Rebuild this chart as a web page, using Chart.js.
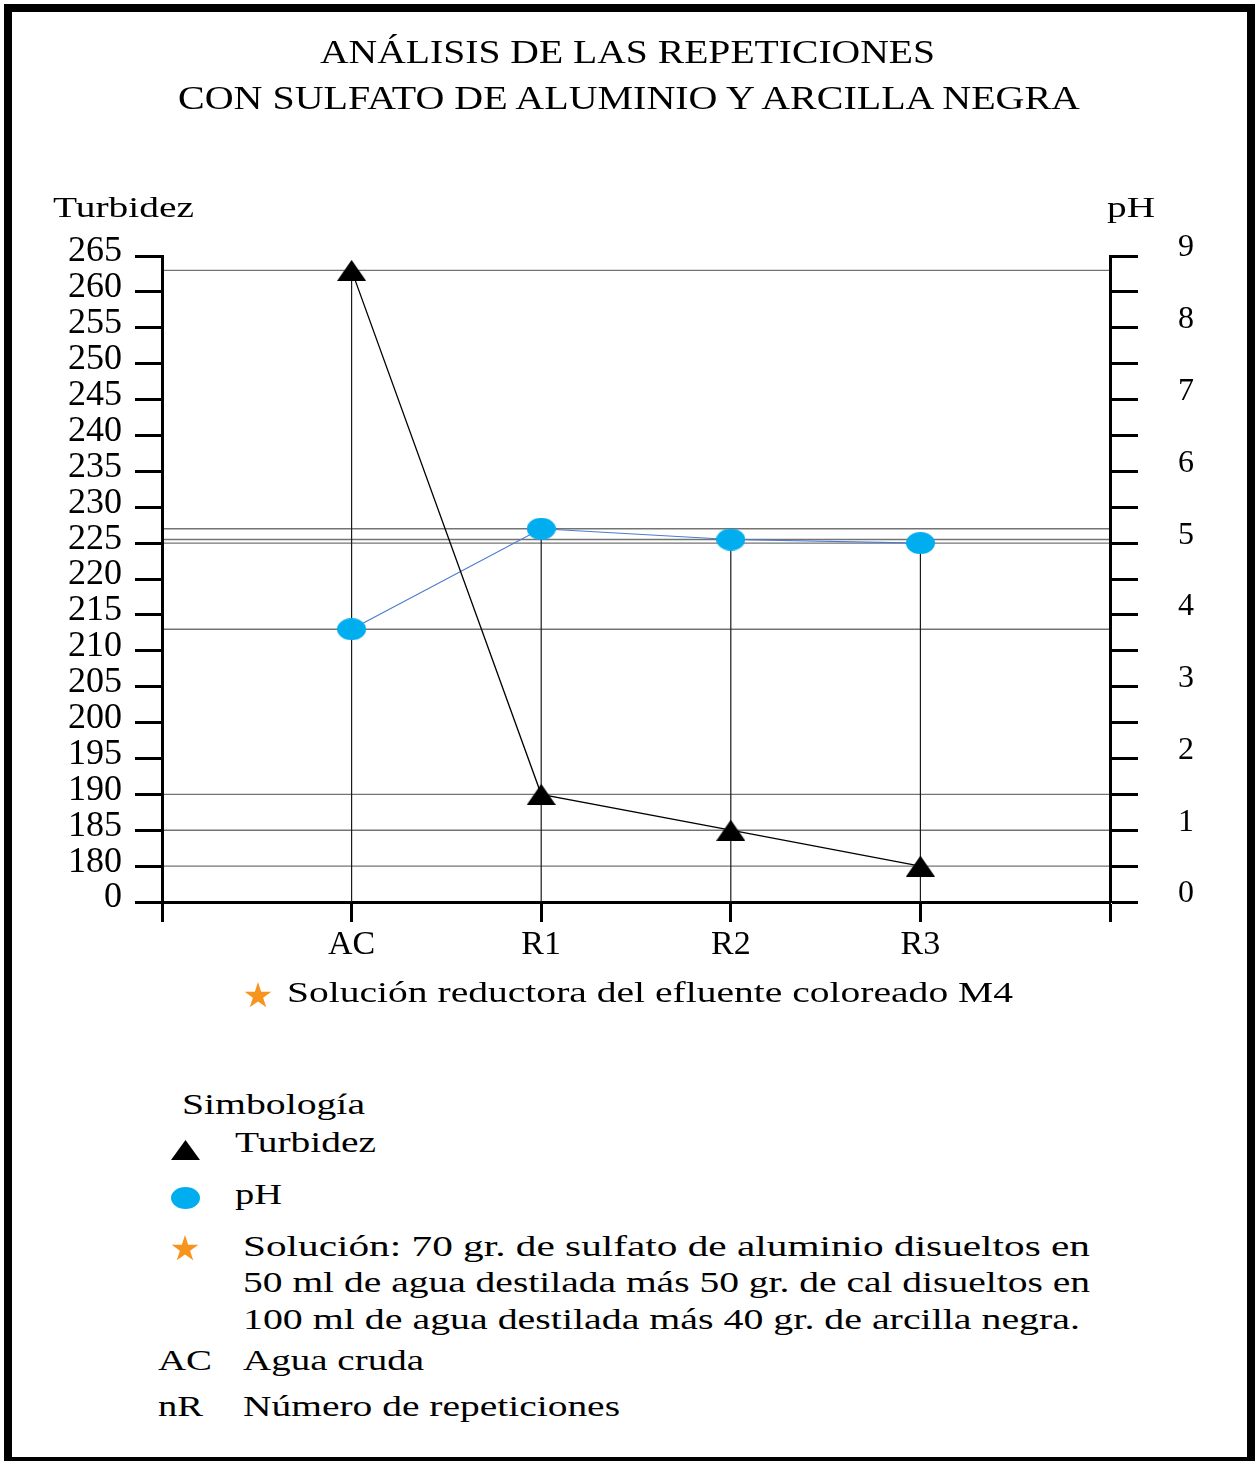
<!DOCTYPE html>
<html lang="es">
<head>
<meta charset="utf-8">
<title>Análisis de las repeticiones</title>
<script src="https://cdn.jsdelivr.net/npm/chart.js@4.4.1/dist/chart.umd.min.js"></script>
<style>
  html, body { margin: 0; padding: 0; background: #fff; }
  body { width: 1257px; height: 1461px; position: relative; overflow: hidden;
         font-family: 'Liberation Serif', 'Times New Roman', serif; color: #000; }
  .frame { position: absolute; left: 4px; top: 4px; width: 1251px; height: 1461px;
           border: 8px solid #000; box-sizing: border-box; }
  #chart { position: absolute; left: 0; top: 0; }
  .txt { position: absolute; white-space: nowrap; line-height: 1; transform-origin: 0 50%; }
  .mark { position: absolute; display: block; }
</style>
</head>
<body>
<div class="frame"></div>
<canvas id="chart" width="1257" height="1000"></canvas>

<span class="txt" data-w="615" style="left:320px;top:35px;font-size:34px">ANÁLISIS DE LAS REPETICIONES</span>
<span class="txt" data-w="902" style="left:178px;top:81px;font-size:34px">CON SULFATO DE ALUMINIO Y ARCILLA NEGRA</span>
<span class="txt" data-w="141" style="left:53px;top:193px;font-size:29px">Turbidez</span>
<span class="txt" data-w="48" style="left:1107px;top:193px;font-size:29px">pH</span>

<svg class="mark" style="left:244px;top:981px" width="28" height="28" viewBox="0 0 28 28">
  <polygon fill="#F7941D" points="14,1 17.17,10.63 27.31,10.67 19.14,16.67 22.23,26.33 14,20.4 5.77,26.33 8.86,16.67 0.69,10.67 10.83,10.63"/>
</svg>
<span class="txt" data-w="726" style="left:287px;top:977px;font-size:30px">Solución reductora del efluente coloreado M4</span>

<span class="txt" data-w="183" style="left:182px;top:1089px;font-size:30px">Simbología</span>

<svg class="mark" style="left:171px;top:1140px" width="29" height="20" viewBox="0 0 29 20">
  <polygon fill="#000" points="0,20 14.5,0 29,20"/>
</svg>
<span class="txt" data-w="141" style="left:235px;top:1127px;font-size:30px">Turbidez</span>

<div class="mark" style="left:171px;top:1187px;width:29px;height:22px;border-radius:50%;background:#00AEEF"></div>
<span class="txt" data-w="47" style="left:235px;top:1179px;font-size:30px">pH</span>

<svg class="mark" style="left:171px;top:1234px" width="28" height="28" viewBox="0 0 28 28">
  <polygon fill="#F7941D" points="14,1 17.17,10.63 27.31,10.67 19.14,16.67 22.23,26.33 14,20.4 5.77,26.33 8.86,16.67 0.69,10.67 10.83,10.63"/>
</svg>
<span class="txt" data-w="847" style="left:243px;top:1231px;font-size:30px">Solución: 70 gr. de sulfato de aluminio disueltos en</span>
<span class="txt" data-w="847" style="left:243px;top:1267px;font-size:30px">50 ml de agua destilada más 50 gr. de cal disueltos en</span>
<span class="txt" data-w="837" style="left:243px;top:1304px;font-size:30px">100 ml de agua destilada más 40 gr. de arcilla negra.</span>

<span class="txt" data-w="54" style="left:158px;top:1345px;font-size:30px">AC</span>
<span class="txt" data-w="181" style="left:243px;top:1345px;font-size:30px">Agua cruda</span>
<span class="txt" data-w="45" style="left:158px;top:1391px;font-size:30px">nR</span>
<span class="txt" data-w="377" style="left:243px;top:1391px;font-size:30px">Número de repeticiones</span>

<script>
// datos
const categories = ['AC', 'R1', 'R2', 'R3'];
const turbidez = [263, 190, 185, 180];
const ph = [3.8, 5.2, 5.05, 5.0];

// etiquetas de los ejes (el eje de turbidez está cortado: 0 y luego 180..265)
const turbidezTicks = ['0', '180', '185', '190', '195', '200', '205', '210', '215', '220',
                       '225', '230', '235', '240', '245', '250', '255', '260', '265'];
const phTicks = ['0', '', '1', '', '2', '', '3', '', '4', '', '5', '', '6', '', '7', '', '8', '', '9'];
const xTicks = ['', ...categories, ''];

// ajustar el ancho de los textos al del original
document.querySelectorAll('.txt[data-w]').forEach(el => {
    const w = el.getBoundingClientRect().width
    el.style.transform = `scaleX(${el.dataset.w / w})`
})

function triangleImage(w, h, color) {
    const c = document.createElement('canvas')
    c.width = w; c.height = h
    const g = c.getContext('2d')
    g.fillStyle = color
    g.beginPath()
    g.moveTo(w / 2, 0); g.lineTo(w, h); g.lineTo(0, h)
    g.closePath(); g.fill()
    return c
}

function ellipseImage(w, h, color) {
    const c = document.createElement('canvas')
    c.width = w; c.height = h
    const g = c.getContext('2d')
    g.fillStyle = color
    g.beginPath()
    g.ellipse(w / 2, h / 2, w / 2, h / 2, 0, 0, Math.PI * 2)
    g.fill()
    return c
}

// líneas guía: horizontal en cada punto y vertical hasta el punto más alto
const guideLines = {
    id: 'guideLines',
    beforeDatasetsDraw(chart) {
        const {ctx, chartArea: a, scales} = chart
        const metas = chart.data.datasets.map((d, i) => chart.getDatasetMeta(i))
        ctx.save()
        ctx.strokeStyle = 'rgba(0,0,0,0.55)'
        ctx.lineWidth = 1.4
        metas.forEach(meta => meta.data.forEach(pt => {
            ctx.beginPath()
            ctx.moveTo(a.left, pt.y)
            ctx.lineTo(a.right, pt.y)
            ctx.stroke()
        }))
        ctx.strokeStyle = '#1a1a1a'
        ctx.lineWidth = 1.2
        categories.forEach((c, i) => {
            const top = Math.min(...metas.map(m => m.data[i].y))
            const x = scales.x.getPixelForValue(i + 1)
            ctx.beginPath()
            ctx.moveTo(x, a.bottom)
            ctx.lineTo(x, top)
            ctx.stroke()
        })
        ctx.restore()
    }
}

const axisGrid = (len) => ({
    drawOnChartArea: false, drawTicks: true, tickLength: len, tickWidth: 3, tickColor: '#000'
})
const axisBorder = {display: true, color: '#000', width: 3}

const ctx = document.getElementById('chart').getContext('2d')
new Chart(ctx, {
    type: 'line',
    data: {
        datasets: [{
            label: 'Turbidez',
            yAxisID: 'y',
            data: turbidez.map((v, i) => ({x: i + 1, y: v})),
            borderColor: '#000',
            borderWidth: 1.3,
            pointStyle: triangleImage(29, 21, '#000'),
            tension: 0
        }, {
            label: 'pH',
            yAxisID: 'y1',
            data: ph.map((v, i) => ({x: i + 1, y: v})),
            borderColor: '#4a7bd0',
            borderWidth: 1.2,
            pointStyle: ellipseImage(29, 22, '#00AEEF'),
            tension: 0
        }]
    },
    options: {
        responsive: false,
        animation: false,
        clip: false,
        layout: {padding: {top: 256, left: 0, right: 0, bottom: 0}},
        plugins: {legend: {display: false}, tooltip: {enabled: false}},
        scales: {
            x: {
                type: 'linear', min: 0, max: 5,
                ticks: {stepSize: 1, callback: v => xTicks[v], autoSkip: false, maxRotation: 0,
                        padding: 3, color: '#000', font: {family: 'Liberation Serif', size: 34}},
                grid: axisGrid(20),
                border: axisBorder,
                afterFit: s => { s.height = 98 }
            },
            y: {
                type: 'linear', position: 'left', min: 175, max: 265,
                ticks: {stepSize: 5, callback: (v, i) => turbidezTicks[i], autoSkip: false,
                        padding: 13, labelOffset: -4, color: '#000',
                        font: {family: 'Liberation Serif', size: 36}},
                grid: axisGrid(27),
                border: axisBorder,
                afterFit: s => { s.width = 162 }
            },
            y1: {
                type: 'linear', position: 'right', min: 0, max: 9,
                ticks: {stepSize: 0.5, callback: (v, i) => phTicks[i], autoSkip: false,
                        padding: 40, labelOffset: -8, color: '#000',
                        font: {family: 'Liberation Serif', size: 32}},
                grid: axisGrid(28),
                border: axisBorder,
                afterFit: s => { s.width = 147 }
            }
        }
    },
    plugins: [guideLines]
})
</script>
</body>
</html>
